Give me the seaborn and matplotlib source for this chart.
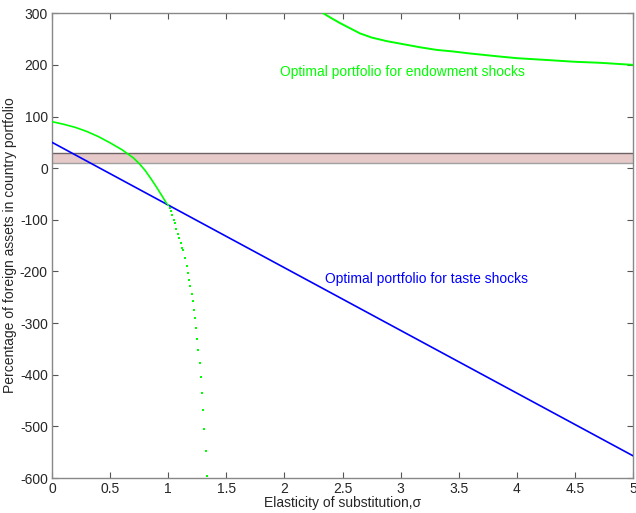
import numpy as np
import pandas as pd
import matplotlib
matplotlib.use("Agg")
import matplotlib.pyplot as plt
import seaborn as sns

# Datos
sigma_taste = [0.0, 5.0]
taste = [50, -557]

# cartera para shocks de dotacion, rama izquierda (tramo continuo)
sigma_endow_a = [0.0, 0.1, 0.2, 0.3, 0.4, 0.5, 0.6, 0.7, 0.75, 0.8, 0.85, 0.9, 0.95, 0.985]
endow_a = [90, 85, 79, 71, 61, 49, 36, 20, 9, -4, -20, -37, -55, -68]

# rama izquierda, tramo punteado (puntos sueltos)
sigma_endow_dots = [1.000, 1.012, 1.023, 1.032, 1.046, 1.059, 1.071, 1.085, 1.097, 1.109,
                    1.120, 1.128, 1.143, 1.158, 1.169, 1.180, 1.189, 1.201, 1.209, 1.220,
                    1.229, 1.238, 1.249, 1.258, 1.270, 1.278, 1.287, 1.296, 1.307, 1.321, 1.332]
endow_dots = [-72, -77, -82, -91, -100, -107, -117, -127, -135, -145,
              -155, -159, -173, -190, -203, -216, -228, -243, -258, -274,
              -291, -310, -331, -353, -378, -405, -435, -469, -506, -548, -597]

# rama derecha
sigma_endow_b = [2.334, 2.4, 2.478, 2.564, 2.65, 2.75, 2.88, 3.0, 3.17, 3.31, 3.45, 3.6, 3.86, 4.0, 4.29, 4.5, 4.72, 5.0]
endow_b = [300, 291, 281, 271, 261, 253, 246, 241, 234, 229, 226, 222, 216, 213, 209, 206, 204, 200]

band = [10, 30]

sns.set_style("ticks", {"xtick.direction": "in", "ytick.direction": "in"})
plt.rcParams['font.family'] = ['Liberation Sans', 'DejaVu Sans']
plt.rcParams['axes.unicode_minus'] = False

fig = plt.figure(figsize=(6.36, 5.13), dpi=100)
ax = fig.add_axes([0.0818, 0.0682, 0.9135, 0.906])

x_band = [0, 5]
ax.fill_between(x_band, band[0], band[1], facecolor='#e6c9c9', edgecolor='none', zorder=1)
ax.plot(x_band, [band[1], band[1]], color='#6e6262', lw=1.0, zorder=2)
ax.plot(x_band, [band[0], band[0]], color='#a0a0a0', lw=1.0, zorder=2)

df_taste = pd.DataFrame({'sigma': sigma_taste, 'value': taste})
df_a = pd.DataFrame({'sigma': sigma_endow_a, 'value': endow_a})
df_b = pd.DataFrame({'sigma': sigma_endow_b, 'value': endow_b})
df_dots = pd.DataFrame({'sigma': sigma_endow_dots, 'value': endow_dots})

sns.lineplot(data=df_taste, x='sigma', y='value', color='#0000ff', lw=1.2, ax=ax, zorder=3)
sns.lineplot(data=df_a, x='sigma', y='value', color='#00ff00', lw=1.2, ax=ax, zorder=3, sort=False)
sns.lineplot(data=df_b, x='sigma', y='value', color='#00ff00', lw=1.4, ax=ax, zorder=3, sort=False)
sns.scatterplot(data=df_dots, x='sigma', y='value', color='#00ff00', s=3, marker='s',
                linewidth=0, ax=ax, zorder=3)

ax.text(1.963, 186, 'Optimal portfolio for endowment shocks', color='#00ff00',
        fontsize=10, va='center', ha='left')
ax.text(2.35, -215, 'Optimal portfolio for taste shocks', color='#0000ff',
        fontsize=10, va='center', ha='left')

ax.set_xlim(0, 5)
ax.set_ylim(-600, 300)
ax.set_xticks(np.arange(0, 5.01, 0.5))
ax.set_xticklabels(['0', '0.5', '1', '1.5', '2', '2.5', '3', '3.5', '4', '4.5', '5'])
ax.set_yticks(np.arange(-600, 301, 100))
ax.tick_params(axis='both', which='both', direction='in', top=True, right=True,
               labelsize=10, length=4, width=0.8, color='#555555', pad=3)
for sp in ax.spines.values():
    sp.set_visible(True)
    sp.set_color('#888888')
    sp.set_linewidth(1.0)

ax.set_xlabel('Elasticity of substitution,σ', fontsize=10, labelpad=0)
ax.set_ylabel('Percentage of foreign assets in country portfolio', fontsize=10, labelpad=2)

fig.savefig('out.png', dpi=100)
